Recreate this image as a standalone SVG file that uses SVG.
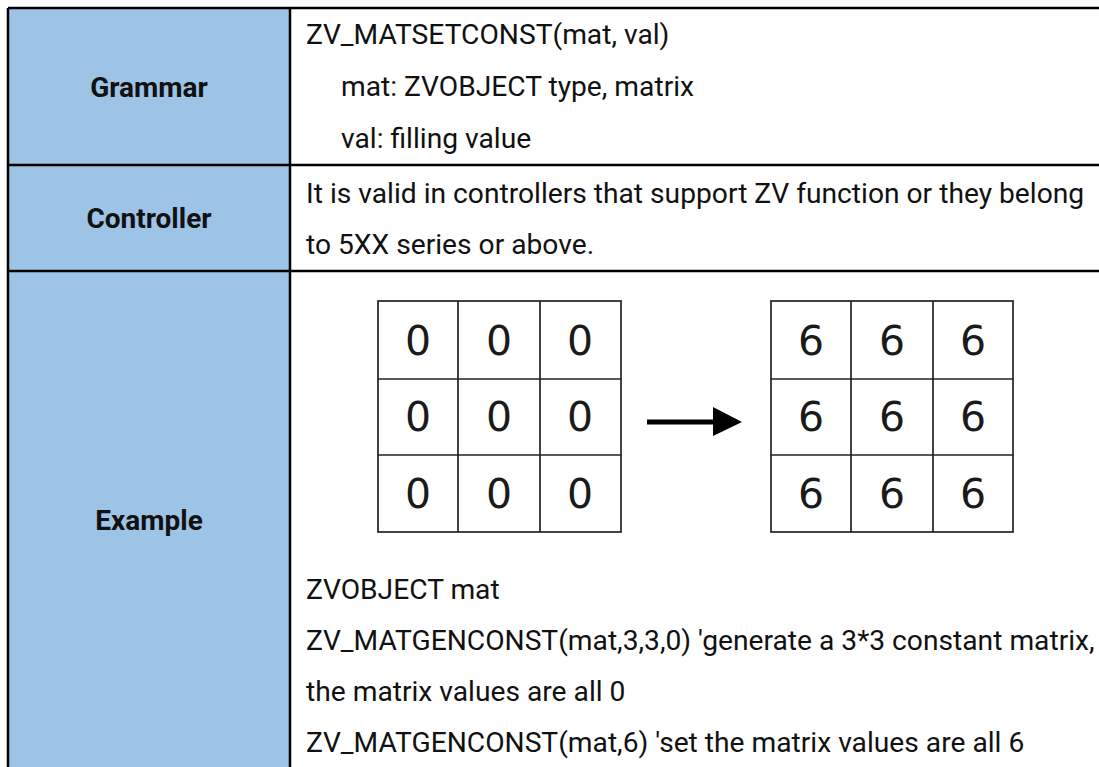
<svg xmlns="http://www.w3.org/2000/svg" width="1099" height="767" viewBox="0 0 1099 767">
  <style>
    .hdr { fill: #9DC3E6; }
    .rule { stroke: #000; stroke-width: 2.5; fill: none; }
    .lbl { font-family: Roboto, "Liberation Sans", sans-serif; font-weight: bold; font-size: 28px; fill: #111; text-anchor: middle; }
    .txt { font-family: Roboto, "Liberation Sans", sans-serif; font-size: 28.2px; fill: #111; }
    .grid { stroke: #222; stroke-width: 1.7; fill: #fff; }
    .gline { stroke: #222; stroke-width: 1.7; }
    .dig { font-family: "DejaVu Sans", sans-serif; font-size: 41px; fill: #1a1a1a; text-anchor: middle; }
  </style>
  <rect width="1099" height="767" fill="#fff"/>

  <g id="table">
    <rect class="hdr" x="8" y="8" width="282" height="759"/>
    <line class="rule" x1="8" y1="8" x2="1099" y2="8"/>
    <line class="rule" x1="8" y1="8" x2="8" y2="767"/>
    <line class="rule" x1="290" y1="8" x2="290" y2="767"/>
    <line class="rule" x1="8" y1="165" x2="1099" y2="165"/>
    <line class="rule" x1="8" y1="271" x2="1099" y2="271"/>
  </g>

  <g id="grammar">
    <text class="lbl" x="149" y="97">Grammar</text>
    <text class="txt" x="306" y="44">ZV_MATSETCONST(mat, val)</text>
    <text class="txt" x="341" y="96">mat: ZVOBJECT type, matrix</text>
    <text class="txt" x="341" y="148">val: filling value</text>
  </g>

  <g id="controller">
    <text class="lbl" x="149" y="228">Controller</text>
    <text class="txt" x="306" y="203">It is valid in controllers that support ZV function or they belong</text>
    <text class="txt" x="306" y="254">to 5XX series or above.</text>
  </g>

  <g id="example">
    <text class="lbl" x="149" y="530">Example</text>
    <text class="txt" x="306" y="599">ZVOBJECT mat</text>
    <text class="txt" x="306" y="650">ZV_MATGENCONST(mat,3,3,0) 'generate a 3*3 constant matrix,</text>
    <text class="txt" x="306" y="701">the matrix values are all 0</text>
    <text class="txt" x="306" y="752">ZV_MATGENCONST(mat,6) 'set the matrix values are all 6</text>
  </g>

  <g id="matrix-before">
    <rect class="grid" x="378" y="301" width="243" height="231"/>
    <line class="gline" x1="458" y1="301" x2="458" y2="532"/>
    <line class="gline" x1="540" y1="301" x2="540" y2="532"/>
    <line class="gline" x1="378" y1="379" x2="621" y2="379"/>
    <line class="gline" x1="378" y1="455" x2="621" y2="455"/>
    <text class="dig" x="418" y="355">0</text>
    <text class="dig" x="499" y="355">0</text>
    <text class="dig" x="580" y="355">0</text>
    <text class="dig" x="418" y="431">0</text>
    <text class="dig" x="499" y="431">0</text>
    <text class="dig" x="580" y="431">0</text>
    <text class="dig" x="418" y="508">0</text>
    <text class="dig" x="499" y="508">0</text>
    <text class="dig" x="580" y="508">0</text>
  </g>

  <g id="matrix-after">
    <rect class="grid" x="771" y="301" width="242" height="231"/>
    <line class="gline" x1="851" y1="301" x2="851" y2="532"/>
    <line class="gline" x1="933" y1="301" x2="933" y2="532"/>
    <line class="gline" x1="771" y1="379" x2="1013" y2="379"/>
    <line class="gline" x1="771" y1="455" x2="1013" y2="455"/>
    <text class="dig" x="811" y="355">6</text>
    <text class="dig" x="892" y="355">6</text>
    <text class="dig" x="973" y="355">6</text>
    <text class="dig" x="811" y="431">6</text>
    <text class="dig" x="892" y="431">6</text>
    <text class="dig" x="973" y="431">6</text>
    <text class="dig" x="811" y="508">6</text>
    <text class="dig" x="892" y="508">6</text>
    <text class="dig" x="973" y="508">6</text>
  </g>

  <g id="connectors">
    <line x1="647" y1="422" x2="716" y2="422" stroke="#000" stroke-width="5"/>
    <polygon points="713,407 742,422 713,436" fill="#000"/>
  </g>
</svg>
